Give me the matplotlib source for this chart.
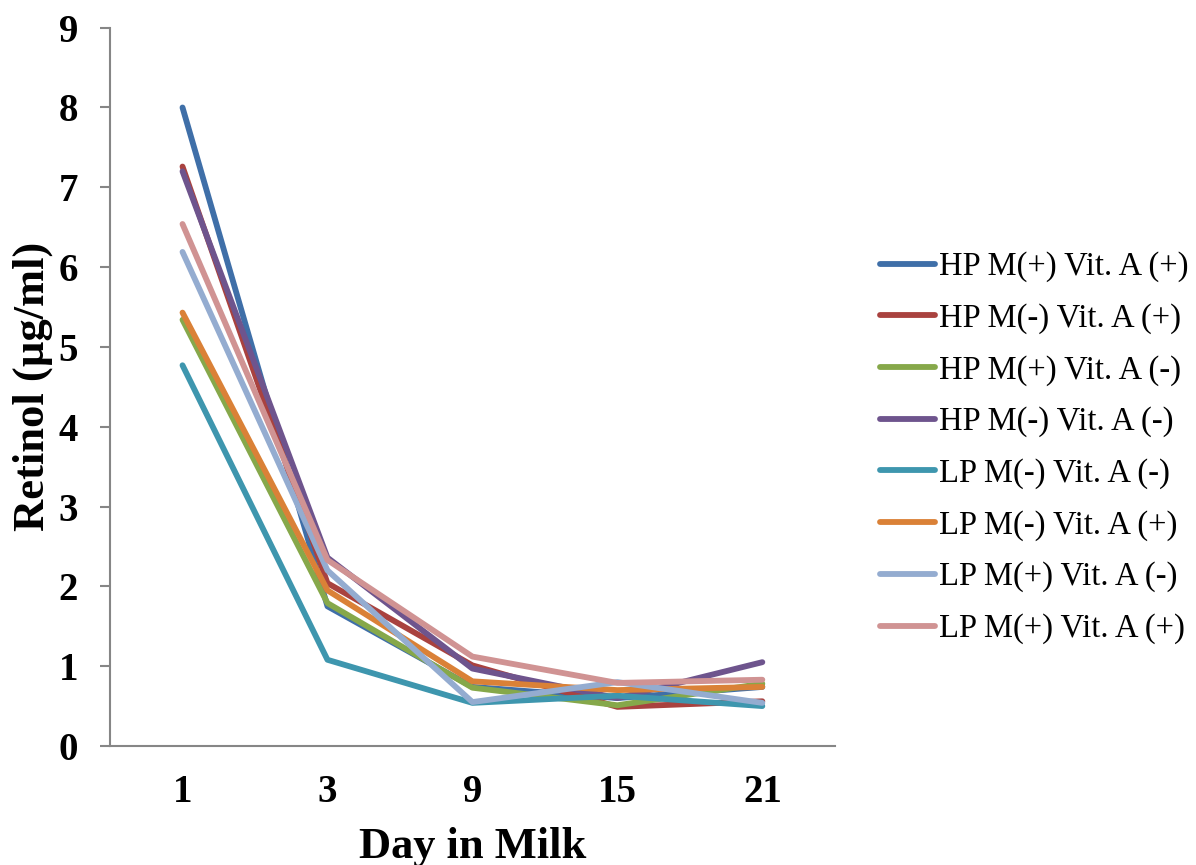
import numpy as np
import matplotlib
matplotlib.use('Agg')
import matplotlib.pyplot as plt

days = ['1', '3', '9', '15', '21']

hp_mp_ap = [8.00, 1.75, 0.74, 0.60, 0.74]
hp_mm_ap = [7.26, 2.04, 1.01, 0.49, 0.56]
hp_mp_am = [5.34, 1.79, 0.73, 0.51, 0.78]
hp_mm_am = [7.20, 2.36, 0.97, 0.60, 1.05]
lp_mm_am = [4.77, 1.08, 0.54, 0.63, 0.50]
lp_mm_ap = [5.43, 1.95, 0.81, 0.70, 0.74]
lp_mp_am = [6.19, 2.20, 0.55, 0.80, 0.54]
lp_mp_ap = [6.54, 2.33, 1.12, 0.79, 0.83]

labels = ['HP M(+) Vit. A (+)', 'HP M(-) Vit. A (+)', 'HP M(+) Vit. A (-)',
          'HP M(-) Vit. A (-)', 'LP M(-) Vit. A (-)', 'LP M(-) Vit. A (+)',
          'LP M(+) Vit. A (-)', 'LP M(+) Vit. A (+)']
series = [hp_mp_ap, hp_mm_ap, hp_mp_am, hp_mm_am,
          lp_mm_am, lp_mm_ap, lp_mp_am, lp_mp_ap]
colors = ['#3F6FA8', '#A9423F', '#86A84A', '#6E548D',
          '#3E96AE', '#DA8137', '#94ACD0', '#D09393']

plt.rcParams['font.family'] = ['Liberation Serif', 'DejaVu Serif']

fig = plt.figure(figsize=(11.96, 8.65), dpi=100)
ax = fig.add_axes([0.092, 0.1376, 0.606, 0.8304])

x = np.arange(len(days))
for y, c, lab in zip(series, colors, labels):
    ax.plot(x, y, color=c, linewidth=4.2, label=lab, solid_capstyle='round')

ax.set_xlim(-0.5, len(days) - 0.5)
ax.set_ylim(0, 9)
ax.set_yticks(range(0, 10))
ax.set_xticks(x)
ax.set_xticklabels(days)

for s in ['top', 'right']:
    ax.spines[s].set_visible(False)
for s in ['left', 'bottom']:
    ax.spines[s].set_color('#868686')
    ax.spines[s].set_linewidth(1.5)

ax.tick_params(axis='y', length=7, width=1.5, color='#868686', pad=16, labelsize=28)
ax.tick_params(axis='x', length=0, pad=20, labelsize=28)
for t in ax.get_xticklabels() + ax.get_yticklabels():
    t.set_fontweight('bold')

ax.set_xlabel('Day in Milk', fontsize=32, fontweight='bold')
ax.set_ylabel('Retinol (µg/ml)', fontsize=32, fontweight='bold')
ax.xaxis.set_label_coords(0.5, -0.113)
ax.yaxis.set_label_coords(-0.079, 0.5)

ax.legend(loc='center left', bbox_to_anchor=(1.044, 0.415), frameon=False,
          borderaxespad=0, fontsize=23.5, handlelength=1.7, handletextpad=0.1,
          labelspacing=0.64)

fig.savefig('out.png', dpi=100, facecolor='w')
